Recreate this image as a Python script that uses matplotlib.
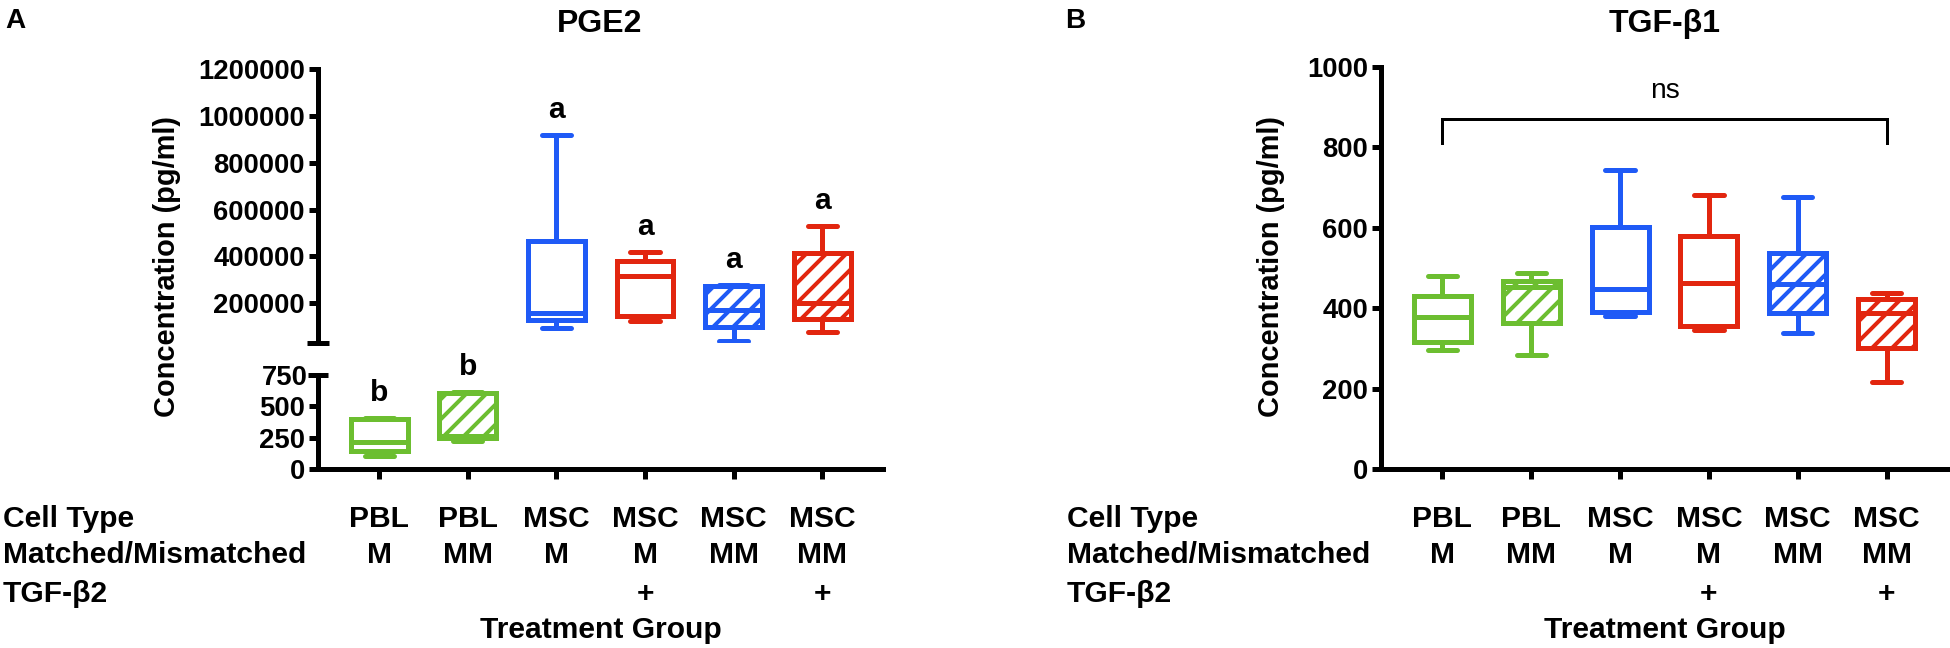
import matplotlib
matplotlib.use("Agg")
import matplotlib.pyplot as plt
from matplotlib.transforms import blended_transform_factory

# ---------------- data ----------------
groups = ["PBL M", "PBL MM", "MSC M", "MSC M +", "MSC MM", "MSC MM +"]
cell_type = ["PBL", "PBL", "MSC", "MSC", "MSC", "MSC"]
matched = ["M", "MM", "M", "M", "MM", "MM"]
tgfb2 = ["", "", "", "+", "", "+"]
hatched = [False, True, False, False, True, True]
box_colors = ["#6CBE30", "#6CBE30", "#1F5AF6", "#E2260F", "#1F5AF6", "#E2260F"]

# PGE2 (pg/ml): whislo, q1, median, q3, whishi
pge2_whislo = [105, 220, 93000, 125000, 40000, 77000]
pge2_q1 = [146, 245, 130000, 145000, 100000, 134000]
pge2_med = [212, 262, 160000, 318000, 170000, 199000]
pge2_q3 = [401, 608, 465000, 380000, 272000, 413000]
pge2_whishi = [410, 615, 920000, 420000, 278000, 530000]
pge2_letters = ["b", "b", "a", "a", "a", "a"]

# TGF-b1 (pg/ml)
tgf_whislo = [296, 284, 381, 346, 339, 217]
tgf_q1 = [317, 362, 391, 356, 389, 300]
tgf_med = [377, 452, 449, 462, 460, 387]
tgf_q3 = [430, 468, 601, 580, 538, 422]
tgf_whishi = [480, 487, 744, 682, 677, 437]

pge2_upper_ticks = [200000, 400000, 600000, 800000, 1000000, 1200000]
pge2_upper_lim = (30000, 1200000)
pge2_lower_ticks = [0, 250, 500]
pge2_lower_lim = (0, 750)
tgf_ticks = [0, 200, 400, 600, 800, 1000]
bracket_pair = (0, 5)
bracket_top = 870
bracket_foot = 812
bracket_text_y = 940

# ---------------- style ----------------
W, H, DPI = 1950, 648, 120
def px(p):
    return p * 72.0 / DPI

plt.rcParams['font.family'] = ['Liberation Sans', 'DejaVu Sans']
plt.rcParams['font.weight'] = 'bold'
plt.rcParams['hatch.linewidth'] = px(4)

LW = px(5)
TICK_FS = px(27.5)
ROW_FS = px(30)

fig = plt.figure(figsize=(W / DPI, H / DPI), dpi=DPI)

def rect(x0, x1, ytop, ybot):
    return [x0 / W, 1 - ybot / H, (x1 - x0) / W, (ybot - ytop) / H]

axAu = fig.add_axes(rect(318, 883.5, 69, 343))
axAl = fig.add_axes(rect(318, 883.5, 375, 469))
axB = fig.add_axes(rect(1381, 1948, 67, 469))

XLIM = (-0.69, 5.69)
for ax in (axAu, axAl, axB):
    ax.set_xlim(*XLIM)
    ax.spines['top'].set_visible(False)
    ax.spines['right'].set_visible(False)
    ax.spines['left'].set_linewidth(LW)
    ax.spines['bottom'].set_linewidth(LW)
    ax.patch.set_alpha(0)
    ax.tick_params(axis='y', direction='out', length=px(9), width=LW,
                   labelsize=TICK_FS, pad=px(4))
    ax.tick_params(axis='x', direction='out', length=px(10), width=LW,
                   labelbottom=False)
    ax.set_xticks(range(len(groups)))

axAu.spines['bottom'].set_visible(False)
axAu.tick_params(axis='x', bottom=False)


def draw_boxes(ax, idx, lo, q1, med, q3, hi):
    stats = []
    for i in idx:
        stats.append(dict(whislo=lo[i], q1=q1[i], med=med[i], q3=q3[i],
                          whishi=hi[i], fliers=[]))
    res = ax.bxp(stats, positions=idx, widths=0.64, capwidths=0.33,
                 patch_artist=True, showfliers=False,
                 boxprops=dict(facecolor='white', linewidth=LW, joinstyle='miter'),
                 whiskerprops=dict(linewidth=LW, solid_capstyle='butt'),
                 capprops=dict(linewidth=LW, solid_capstyle='round'),
                 medianprops=dict(linewidth=LW, solid_capstyle='butt'))
    for k, i in enumerate(idx):
        c = box_colors[i]
        b = res['boxes'][k]
        b.set_edgecolor(c)
        if hatched[i]:
            b.set_hatch('//')
        for ln in res['whiskers'][2 * k:2 * k + 2] + res['caps'][2 * k:2 * k + 2]:
            ln.set_color(c)
        res['medians'][k].set_color(c)
    ax.set_xlim(*XLIM)
    ax.set_xticks(range(len(groups)))


pbl_idx = [0, 1]
msc_idx = [2, 3, 4, 5]
draw_boxes(axAl, pbl_idx, pge2_whislo, pge2_q1, pge2_med, pge2_q3, pge2_whishi)
draw_boxes(axAu, msc_idx, pge2_whislo, pge2_q1, pge2_med, pge2_q3, pge2_whishi)
draw_boxes(axB, list(range(6)), tgf_whislo, tgf_q1, tgf_med, tgf_q3, tgf_whishi)

# y axes
axAu.set_ylim(*pge2_upper_lim)
axAu.set_yticks(pge2_upper_ticks)
axAu.set_yticklabels([str(v) for v in pge2_upper_ticks])
axAu.set_yticks([pge2_upper_lim[0]], minor=True)
axAu.tick_params(axis='y', which='minor', direction='inout', length=px(22), width=LW)
axAu.spines['left'].set_bounds(*pge2_upper_lim)

axAl.set_ylim(*pge2_lower_lim)
axAl.set_yticks(pge2_lower_ticks)
axAl.set_yticks([pge2_lower_lim[1]], labels=[str(pge2_lower_lim[1])], minor=True)
axAl.tick_params(axis='y', which='minor', direction='inout', length=px(20), width=LW,
                 labelsize=TICK_FS, pad=px(0))

axB.set_ylim(0, 1000)
axB.set_yticks(tgf_ticks)

for ax in (axAu, axAl, axB):
    for lab in ax.get_yticklabels(which='both'):
        lab.set_fontweight('bold')

# significance letters
for i in range(6):
    ax = axAl if i in pbl_idx else axAu
    ax.annotate(pge2_letters[i], xy=(i, pge2_whishi[i]), xytext=(0, px(25)),
                textcoords='offset points', ha='center', va='center',
                fontsize=px(30), fontweight='bold', annotation_clip=False)

# ns bracket
axB.plot([bracket_pair[0], bracket_pair[0], bracket_pair[1], bracket_pair[1]],
         [bracket_foot, bracket_top, bracket_top, bracket_foot],
         color='black', linewidth=px(3), solid_joinstyle='miter', clip_on=False)
axB.text(sum(bracket_pair) / 2, bracket_text_y, "ns", ha='center', va='center',
         fontsize=px(28), fontweight='normal')

# titles, panel labels, y labels
fig.text(600 / W, 1 - 32 / H, "PGE2", ha='center', va='baseline',
         fontsize=px(32), fontweight='bold')
fig.text(1664.5 / W, 1 - 32 / H, "TGF-β1", ha='center', va='baseline',
         fontsize=px(32), fontweight='bold')
fig.text(5 / W, 1 - 28 / H, "A", ha='left', va='baseline', fontsize=px(28), fontweight='bold')
fig.text(1065 / W, 1 - 28 / H, "B", ha='left', va='baseline', fontsize=px(28), fontweight='bold')
for xc in (167, 1271):
    fig.text(xc / W, 1 - 266 / H, "Concentration (pg/ml)", rotation=90,
             ha='center', va='center', fontsize=px(29), fontweight='bold')

# category table below axes
row_names = ["Cell Type", "Matched/Mismatched", "TGF-β2"]
row_values = [cell_type, matched, tgfb2]
row_base = [527, 563, 602]
for ax, x_left in ((axAl, 3), (axB, 1067)):
    tr = blended_transform_factory(ax.transData, fig.transFigure)
    for name, vals, yb in zip(row_names, row_values, row_base):
        fig.text(x_left / W, 1 - yb / H, name, ha='left', va='baseline',
                 fontsize=ROW_FS, fontweight='bold')
        for i, v in enumerate(vals):
            if v:
                ax.text(i, 1 - yb / H, v, transform=tr, ha='center', va='baseline',
                        fontsize=ROW_FS, fontweight='bold')
    ax.text(2.5, 1 - 638 / H, "Treatment Group", transform=tr, ha='center',
            va='baseline', fontsize=ROW_FS, fontweight='bold')

fig.savefig("out.png", dpi=DPI)
